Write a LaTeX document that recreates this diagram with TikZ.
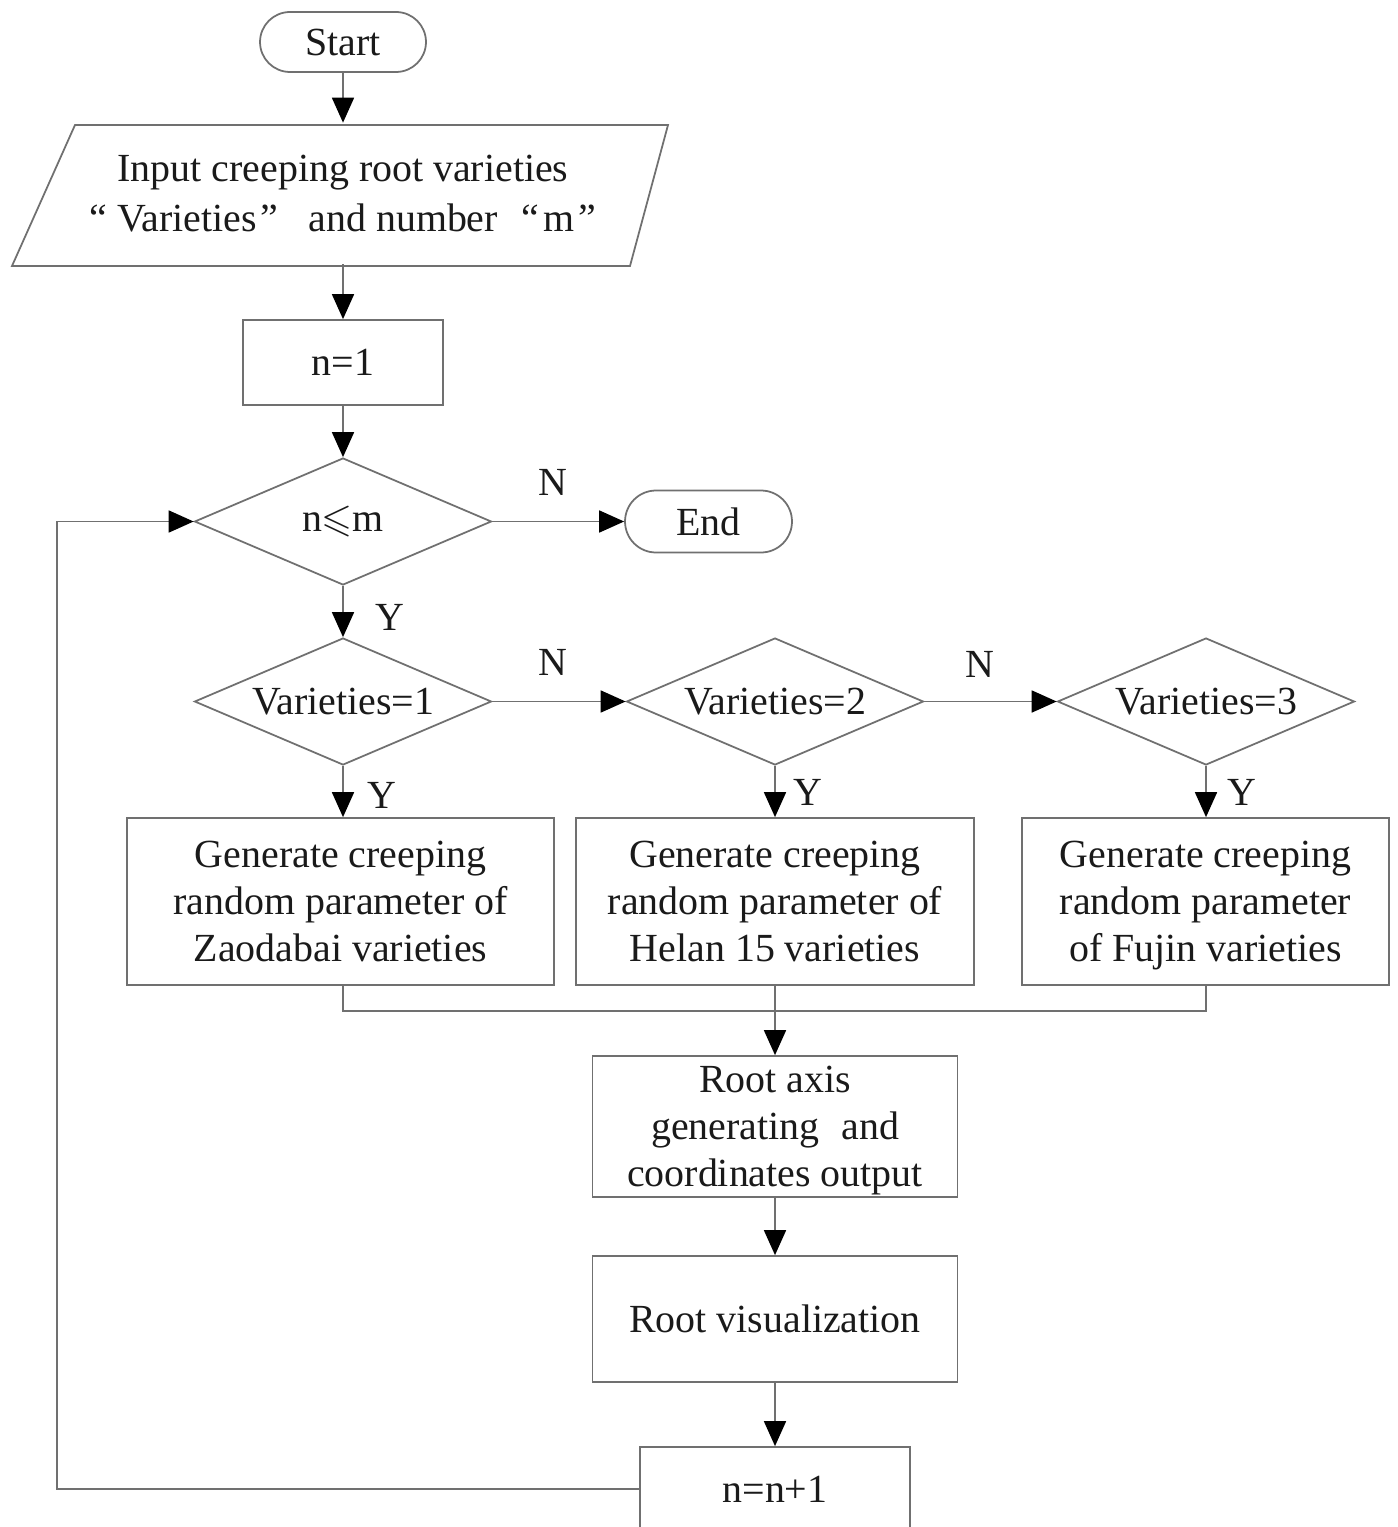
\documentclass[tikz,border=0pt]{standalone}
\usepackage{amssymb}
\usepackage{fontspec}
\setmainfont{Liberation Serif}
\usetikzlibrary{arrows.meta,shapes.geometric,shapes.misc}

\definecolor{linegray}{HTML}{707070}
\definecolor{inkblack}{HTML}{1A1A1A}
\newcommand\bodyfont{\fontsize{22.7}{26.8}\selectfont}
% a line whose descenders do not count for vertical centring
\newcommand\nodepth[1]{\raisebox{0pt}[\height][0pt]{#1}}

\tikzset{
  line/.style={draw=linegray, line width=1pt},
  flow/.style={line, -{Triangle[length=0.5cm,width=0.44cm,color=black]}},
  txt/.style={font=\bodyfont, text=inkblack, align=center},
  box/.style={rectangle, line, txt, inner sep=0pt},
  term/.style={rounded rectangle, line, txt, inner sep=0pt},
  cond/.style={diamond, aspect=2.34, line, txt, inner sep=0pt,
               minimum width=5.94cm, minimum height=2.54cm},
  lbl/.style={txt, inner sep=0pt}
}

\begin{document}
\begin{tikzpicture}[x=0.02cm, y=-0.02cm]
\useasboundingbox (0,0) rectangle (1397,1527);
\clip (0,0) rectangle (1397,1527);
\fill[white] (0,0) rectangle (1397,1527);

% start, input and counter initialisation
\node[term, minimum width=3.32cm, minimum height=1.2cm] (start) at (343,42) {Start};
\node[txt, inner sep=0pt, minimum width=11cm, minimum height=2.82cm,
      font={\fontsize{22.7}{28.5}\selectfont}] (inp) at (343,193.5)
  {Input creeping root varieties\\
   “\hspace{0.25em}Varieties\hspace{0.1em}”\hspace{0.75em}and number\hspace{0.6em}“\hspace{0.1em}m\hspace{0.1em}”};
\draw[line] (75,125) -- (668,125) -- (630,266) -- (12,266) -- cycle;
\node[box, minimum width=4cm, minimum height=1.7cm] (n1) at (343,362.5) {n=1};

% loop test and end
\node[cond] (d0) at (343,521.5) {n$\leqslant$m};
\node[term, minimum width=3.34cm, minimum height=1.24cm] (end) at (708.5,521.5) {End};

% variety tests
\node[cond] (d1) at (343,701.5) {Varieties=1};
\node[cond] (d2) at (775,701.5) {Varieties=2};
\node[cond] (d3) at (1206,701.5) {Varieties=3};

% parameter generation per variety
\node[box, minimum width=8.54cm, minimum height=3.34cm] (b1) at (340.5,901.5)
  {Generate creeping\\random parameter of\\Zaodabai varieties};
\node[box, minimum width=7.96cm, minimum height=3.34cm] (b2) at (775,901.5)
  {Generate creeping\\random parameter of\\Helan 15 varieties};
\node[box, minimum width=7.34cm, minimum height=3.34cm] (b3) at (1205.5,901.5)
  {Generate creeping\\random parameter\\\nodepth{of Fujin varieties}};

% root generation, visualisation and increment
\node[box, minimum width=7.3cm, minimum height=2.82cm] (ra) at (775,1126.5)
  {Root axis\\generating\hspace{0.3em} and\\\nodepth{coordinates output}};
\node[box, minimum width=7.3cm, minimum height=2.52cm] (rv) at (775,1319) {Root visualization};
\node[box, minimum width=5.4cm, minimum height=1.68cm] (inc) at (775,1489) {n=n+1};

% branch labels
\node[lbl] (nA) at (553,482) {N};
\node[lbl] (nB) at (553,662) {N};
\node[lbl] (nC) at (980,664) {N};
\node[lbl] (yA) at (390,617) {Y};
\node[lbl] (yB) at (382,795) {Y};
\node[lbl] (yC) at (808,792) {Y};
\node[lbl] (yD) at (1242,792) {Y};

% connectors
\draw[flow] (start) -- (inp);
\draw[flow] (inp.south) -- (n1.north);
\draw[flow] (n1) -- (d0);
\draw[flow] (d0.east) -- (end.west);
\draw[flow] (d0) -- (d1);
\draw[flow] (d1.east) -- (d2.west);
\draw[flow] (d2.east) -- (d3.west);
\draw[flow] (d1.south) -- (d1.south |- b1.north);
\draw[flow] (d2.south) -- (d2.south |- b2.north);
\draw[flow] (d3.south) -- (d3.south |- b3.north);

\coordinate (mj) at (775,1011);
\draw[line] (d1.south |- b1.south) |- (mj) -| (d3.south |- b3.south);
\draw[flow] (b2.south) -- (ra.north);
\draw[flow] (ra) -- (rv);
\draw[flow] (rv) -- (inc);

\coordinate (lp) at (57,1489);
\draw[flow] (inc.west) -- (lp) |- (d0.west);
\end{tikzpicture}
\end{document}
